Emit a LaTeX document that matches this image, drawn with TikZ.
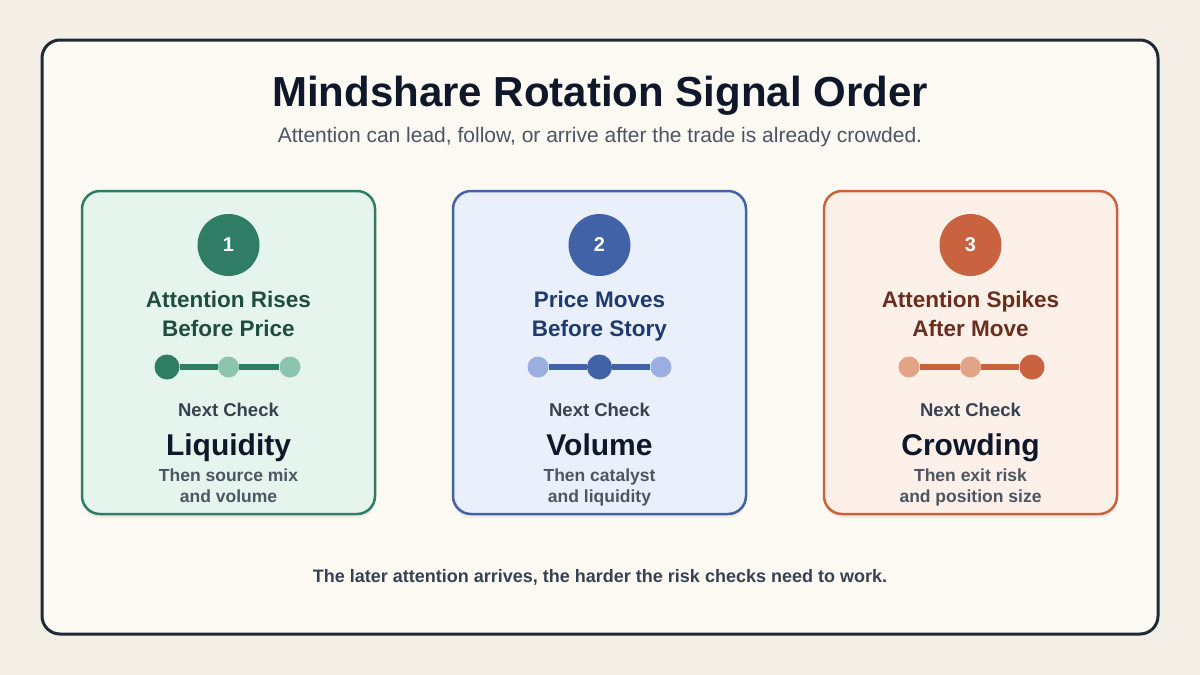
\documentclass[tikz,border=0pt]{standalone}
\usepackage{fontspec}
\setmainfont{Liberation Sans}
\usetikzlibrary{positioning,shadows}

\definecolor{pagebg}{HTML}{F3EFE7}
\definecolor{framebg}{HTML}{FDF9F3}
\definecolor{frameink}{HTML}{1F2A37}
\definecolor{headink}{HTML}{0F172A}
\definecolor{subink}{HTML}{4B5563}
\definecolor{labink}{HTML}{374151}
\definecolor{grn}{HTML}{2E7D64}
\definecolor{grnbg}{HTML}{E6F4EE}
\definecolor{grnlt}{HTML}{8DC4AE}
\definecolor{grnink}{HTML}{1F4D3F}
\definecolor{blu}{HTML}{4262A8}
\definecolor{blubg}{HTML}{EAF0FB}
\definecolor{blult}{HTML}{9AAEDF}
\definecolor{bluink}{HTML}{1E3A6E}
\definecolor{org}{HTML}{C8623F}
\definecolor{orgbg}{HTML}{FDF0E8}
\definecolor{orglt}{HTML}{E2A486}
\definecolor{orgink}{HTML}{6B2E1E}

\begin{document}
\begin{tikzpicture}[x=1pt, y=-1pt,
    frame/.style={draw=frameink, line width=3pt, rounded corners=18pt, fill=framebg, minimum width=1116pt, minimum height=594pt},
    card/.style={draw=#1, line width=2.5pt, rounded corners=18pt, fill=#1bg, minimum width=293pt, minimum height=323pt,
        drop shadow={shadow xshift=0pt, shadow yshift=-4pt, opacity=.10}},
    badge/.style={circle, fill=#1, minimum size=62pt, inner sep=0pt, text=white, font=\bfseries\fontsize{20}{24}\selectfont},
    ttl/.style={align=center, inner sep=0pt, text=#1, font=\bfseries\fontsize{22.5}{29}\selectfont},
    bigdot/.style={circle, fill=#1, minimum size=25pt, inner sep=0pt},
    smdot/.style={circle, fill=#1, minimum size=21pt, inner sep=0pt},
    rail/.style={draw=#1, line width=5.5pt},
    nxt/.style={inner sep=0pt, text=labink, font=\bfseries\fontsize{18.5}{22}\selectfont},
    word/.style={inner sep=0pt, text=headink, font=\bfseries\fontsize{30}{34}\selectfont},
    detail/.style={align=center, inner sep=0pt, text=subink, font=\bfseries\fontsize{17.5}{21}\selectfont}
]
\useasboundingbox[fill=pagebg] (0,0) rectangle (1200,675);
\node[frame] (frm) at (600,337) {};

% heading
\node[anchor=base, inner sep=0pt, text=headink, font=\bfseries\fontsize{42}{48}\selectfont] (head) at (600,106) {Mindshare Rotation Signal Order};
\node[anchor=base, inner sep=0pt, text=subink, font=\fontsize{21}{24}\selectfont] (sub) at (600,142) {Attention can lead, follow, or arrive after the trade is already crowded.};

% card 1
\node[card=grn] (c1) at (228.5,352.5) {};
\node[badge=grn] (n1) at (228.5,245) {1};
\node[ttl=grnink, anchor=base] (t1) at (228.5,336) {Attention Rises\\Before Price};
\node[bigdot=grn] (g1) at (167,367) {};
\node[smdot=grnlt] (g2) at (228.5,367) {};
\node[smdot=grnlt] (g3) at (290,367) {};
\draw[rail=grn] (g1) -- (g2) -- (g3);
\node[nxt, anchor=base] (x1) at (228.5,416) {Next Check};
\node[word, anchor=base] (w1) at (228.5,455) {Liquidity};
\node[detail, anchor=base] (d1) at (228.5,502) {Then source mix\\and volume};

% card 2
\node[card=blu] (c2) at (599.5,352.5) {};
\node[badge=blu] (n2) at (599.5,245) {2};
\node[ttl=bluink, anchor=base] (t2) at (599.5,336) {Price Moves\\Before Story};
\node[smdot=blult] (b1) at (538,367) {};
\node[bigdot=blu] (b2) at (599.5,367) {};
\node[smdot=blult] (b3) at (661,367) {};
\draw[rail=blu] (b1) -- (b2) -- (b3);
\node[nxt, anchor=base] (x2) at (599.5,416) {Next Check};
\node[word, anchor=base] (w2) at (599.5,455) {Volume};
\node[detail, anchor=base] (d2) at (599.5,502) {Then catalyst\\and liquidity};

% card 3
\node[card=org] (c3) at (970.5,352.5) {};
\node[badge=org] (n3) at (970.5,245) {3};
\node[ttl=orgink, anchor=base] (t3) at (970.5,336) {Attention Spikes\\After Move};
\node[smdot=orglt] (o1) at (909,367) {};
\node[smdot=orglt] (o2) at (970.5,367) {};
\node[bigdot=org] (o3) at (1032,367) {};
\draw[rail=org] (o1) -- (o2) -- (o3);
\node[nxt, anchor=base] (x3) at (970.5,416) {Next Check};
\node[word, anchor=base] (w3) at (970.5,455) {Crowding};
\node[detail, anchor=base] (d3) at (970.5,502) {Then exit risk\\and position size};

% footer
\node[anchor=base, inner sep=0pt, text=labink, font=\bfseries\fontsize{18}{22}\selectfont] (foot) at (600,582) {The later attention arrives, the harder the risk checks need to work.};
\end{tikzpicture}
\end{document}
